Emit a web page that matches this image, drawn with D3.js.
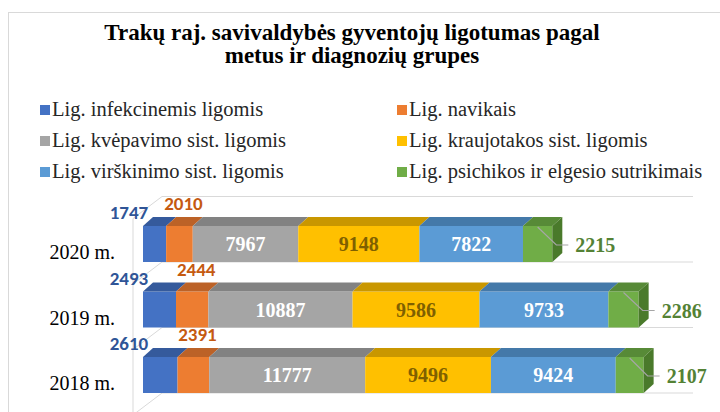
<!DOCTYPE html>
<html>
<head>
<meta charset="utf-8">
<script src="https://cdn.jsdelivr.net/npm/d3@7"></script>
<style>
  body { margin: 0; background: #fff; }
  svg { display: block; }
</style>
</head>
<body>
<div id="chart"></div>
<script>
// data
const years = ["2020 m.", "2019 m.", "2018 m."];
const seriesNames = [
  "Lig. infekcinemis ligomis",
  "Lig. navikais",
  "Lig. kvėpavimo sist. ligomis",
  "Lig. kraujotakos sist. ligomis",
  "Lig. virškinimo sist. ligomis",
  "Lig. psichikos ir elgesio sutrikimais"
];
const infekcinemis = [1747, 2493, 2610];
const navikais = [2010, 2444, 2391];
const kvepavimo = [7967, 10887, 11777];
const kraujotakos = [9148, 9586, 9496];
const virskinimo = [7822, 9733, 9424];
const psichikos = [2215, 2286, 2107];

const colors = ["#4472C4", "#ED7D31", "#A5A5A5", "#FFC000", "#5B9BD5", "#70AD47"];
const topColors = ["#355A9C", "#BC6227", "#828282", "#C99700", "#4479A9", "#578A37"];

const width = 720, height = 412;
const depth = { dx: 10, dy: -9 };     // bar depth
const wall = { dx: 29, dy: -22 };     // wall depth
const serif = "Liberation Serif";

const svg = d3.select("#chart").append("svg")
  .attr("width", width)
  .attr("height", height);

// chart frame
svg.append("rect")
  .attr("x", 8.5).attr("y", 12.5)
  .attr("width", 760).attr("height", 460)
  .attr("fill", "none")
  .attr("stroke", "#D9D9D9");

// title
const titleLines = ["Trakų raj. savivaldybės gyventojų ligotumas pagal", "metus ir diagnozių grupes"];
svg.append("g").selectAll("text")
  .data(titleLines)
  .enter().append("text")
  .attr("x", 352)
  .attr("y", (d, i) => 40 + i * 23)
  .attr("text-anchor", "middle")
  .attr("font-family", serif)
  .attr("font-weight", "bold")
  .attr("font-size", 23)
  .attr("fill", "#000")
  .text(d => d);

// legend
const legend = svg.append("g");
seriesNames.forEach((name, i) => {
  const col = i % 2, row = Math.floor(i / 2);
  const lx = col === 0 ? 40 : 397;
  const ly = 116 + row * 31;
  legend.append("rect")
    .attr("x", lx).attr("y", ly - 11)
    .attr("width", 10).attr("height", 10)
    .attr("fill", colors[i]);
  legend.append("text")
    .attr("x", lx + 12).attr("y", ly)
    .attr("fill", "#262626")
    .attr("font-family", serif)
    .attr("font-size", 20.5)
    .text(name);
});

// scales
const x = d3.scaleLinear().domain([0, 40000]).range([143, 672.7]);
const xBack = d3.scaleLinear().domain([0, 40000]).range([162, 693]);
const y = d3.scaleBand().domain(years).range([196.5, 393]);
const barH = 36;

// walls / gridlines
const grid = svg.append("g").attr("stroke", "#D9D9D9").attr("fill", "none");
const lineYs = years.map(d => y(d)).concat([y(years[years.length - 1]) + y.bandwidth()]);
grid.append("line")
  .attr("x1", xBack(0) - wall.dx).attr("x2", xBack(0) - wall.dx)
  .attr("y1", lineYs[0] - wall.dy).attr("y2", height + 5);
lineYs.forEach(ly => {
  grid.append("line")
    .attr("x1", xBack(0)).attr("x2", xBack(40000))
    .attr("y1", ly).attr("y2", ly);
  grid.append("line")
    .attr("x1", xBack(0) - wall.dx).attr("y1", ly - wall.dy)
    .attr("x2", xBack(0)).attr("y2", ly);
});

// category labels
svg.append("g").selectAll("text")
  .data(years)
  .enter().append("text")
  .attr("x", 115)
  .attr("y", d => y(d) + y.bandwidth() - barH + 33)
  .attr("text-anchor", "end")
  .attr("fill", "#000")
  .attr("font-family", serif)
  .attr("font-size", 20)
  .text(d => d);

// stacked data
const series = [infekcinemis, navikais, kvepavimo, kraujotakos, virskinimo, psichikos];
const rows = years.map((yr, j) => {
  let acc = 0;
  return series.map((s, i) => {
    const seg = { year: yr, i: i, v: s[j], x0: acc, x1: acc + s[j] };
    acc += s[j];
    return seg;
  });
});

const bars = svg.append("g");
rows.forEach(segs => {
  const yr = segs[0].year;
  const bottom = y(yr) + y.bandwidth();
  const top = bottom - barH;
  const g = bars.append("g");

  g.selectAll("rect.front")
    .data(segs)
    .enter().append("rect")
    .attr("x", d => x(d.x0))
    .attr("y", top)
    .attr("width", d => x(d.x1) - x(d.x0))
    .attr("height", barH)
    .attr("fill", d => colors[d.i]);

  g.selectAll("path.top")
    .data(segs)
    .enter().append("path")
    .attr("d", d => {
      const a = x(d.x0), b = x(d.x1);
      return `M${a},${top}L${b},${top}L${b + depth.dx},${top + depth.dy}L${a + depth.dx},${top + depth.dy}Z`;
    })
    .attr("fill", d => topColors[d.i]);

  // right side face
  const last = segs[segs.length - 1];
  const e = x(last.x1);
  g.append("path")
    .attr("d", `M${e},${top}L${e + depth.dx},${top + depth.dy}L${e + depth.dx},${bottom + depth.dy}L${e},${bottom}Z`)
    .attr("fill", "#4A7A2B");

  const mid = top + barH / 2;

  // inner labels
  [2, 3, 4].forEach(i => {
    const d = segs[i];
    g.append("text")
      .attr("x", (x(d.x0) + x(d.x1)) / 2)
      .attr("y", mid + 7)
      .attr("text-anchor", "middle")
      .attr("fill", i === 3 ? "#7F6000" : "#fff")
      .attr("font-family", serif)
      .attr("font-weight", "bold")
      .attr("font-size", 20)
      .text(d.v);
  });

  // outside labels of the first two series
  g.append("text")
    .attr("x", x(0) - 14)
    .attr("y", top - 7)
    .attr("text-anchor", "middle")
    .attr("fill", "#2F5597")
    .attr("font-family", "Carlito")
    .attr("font-weight", "bold")
    .attr("font-size", 19)
    .text(segs[0].v);
  g.append("text")
    .attr("x", (x(segs[1].x0) + x(segs[1].x1)) / 2 + 4)
    .attr("y", top - 16)
    .attr("text-anchor", "middle")
    .attr("fill", "#C55A11")
    .attr("font-family", "Carlito")
    .attr("font-weight", "bold")
    .attr("font-size", 19)
    .text(segs[1].v);

  // leader line + label of last series
  const gc = (x(last.x0) + x(last.x1)) / 2;
  g.append("path")
    .attr("d", `M${gc},${top + 1}L${e + 4},${mid + 1}L${e + 16},${mid + 1}`)
    .attr("fill", "none")
    .attr("stroke", "#A6A6A6")
    .attr("stroke-width", 1.2);
  g.append("text")
    .attr("x", e + 23)
    .attr("y", mid + 8)
    .attr("fill", "#548235")
    .attr("font-family", serif)
    .attr("font-weight", "bold")
    .attr("font-size", 20)
    .text(last.v);
});
</script>
</body>
</html>
